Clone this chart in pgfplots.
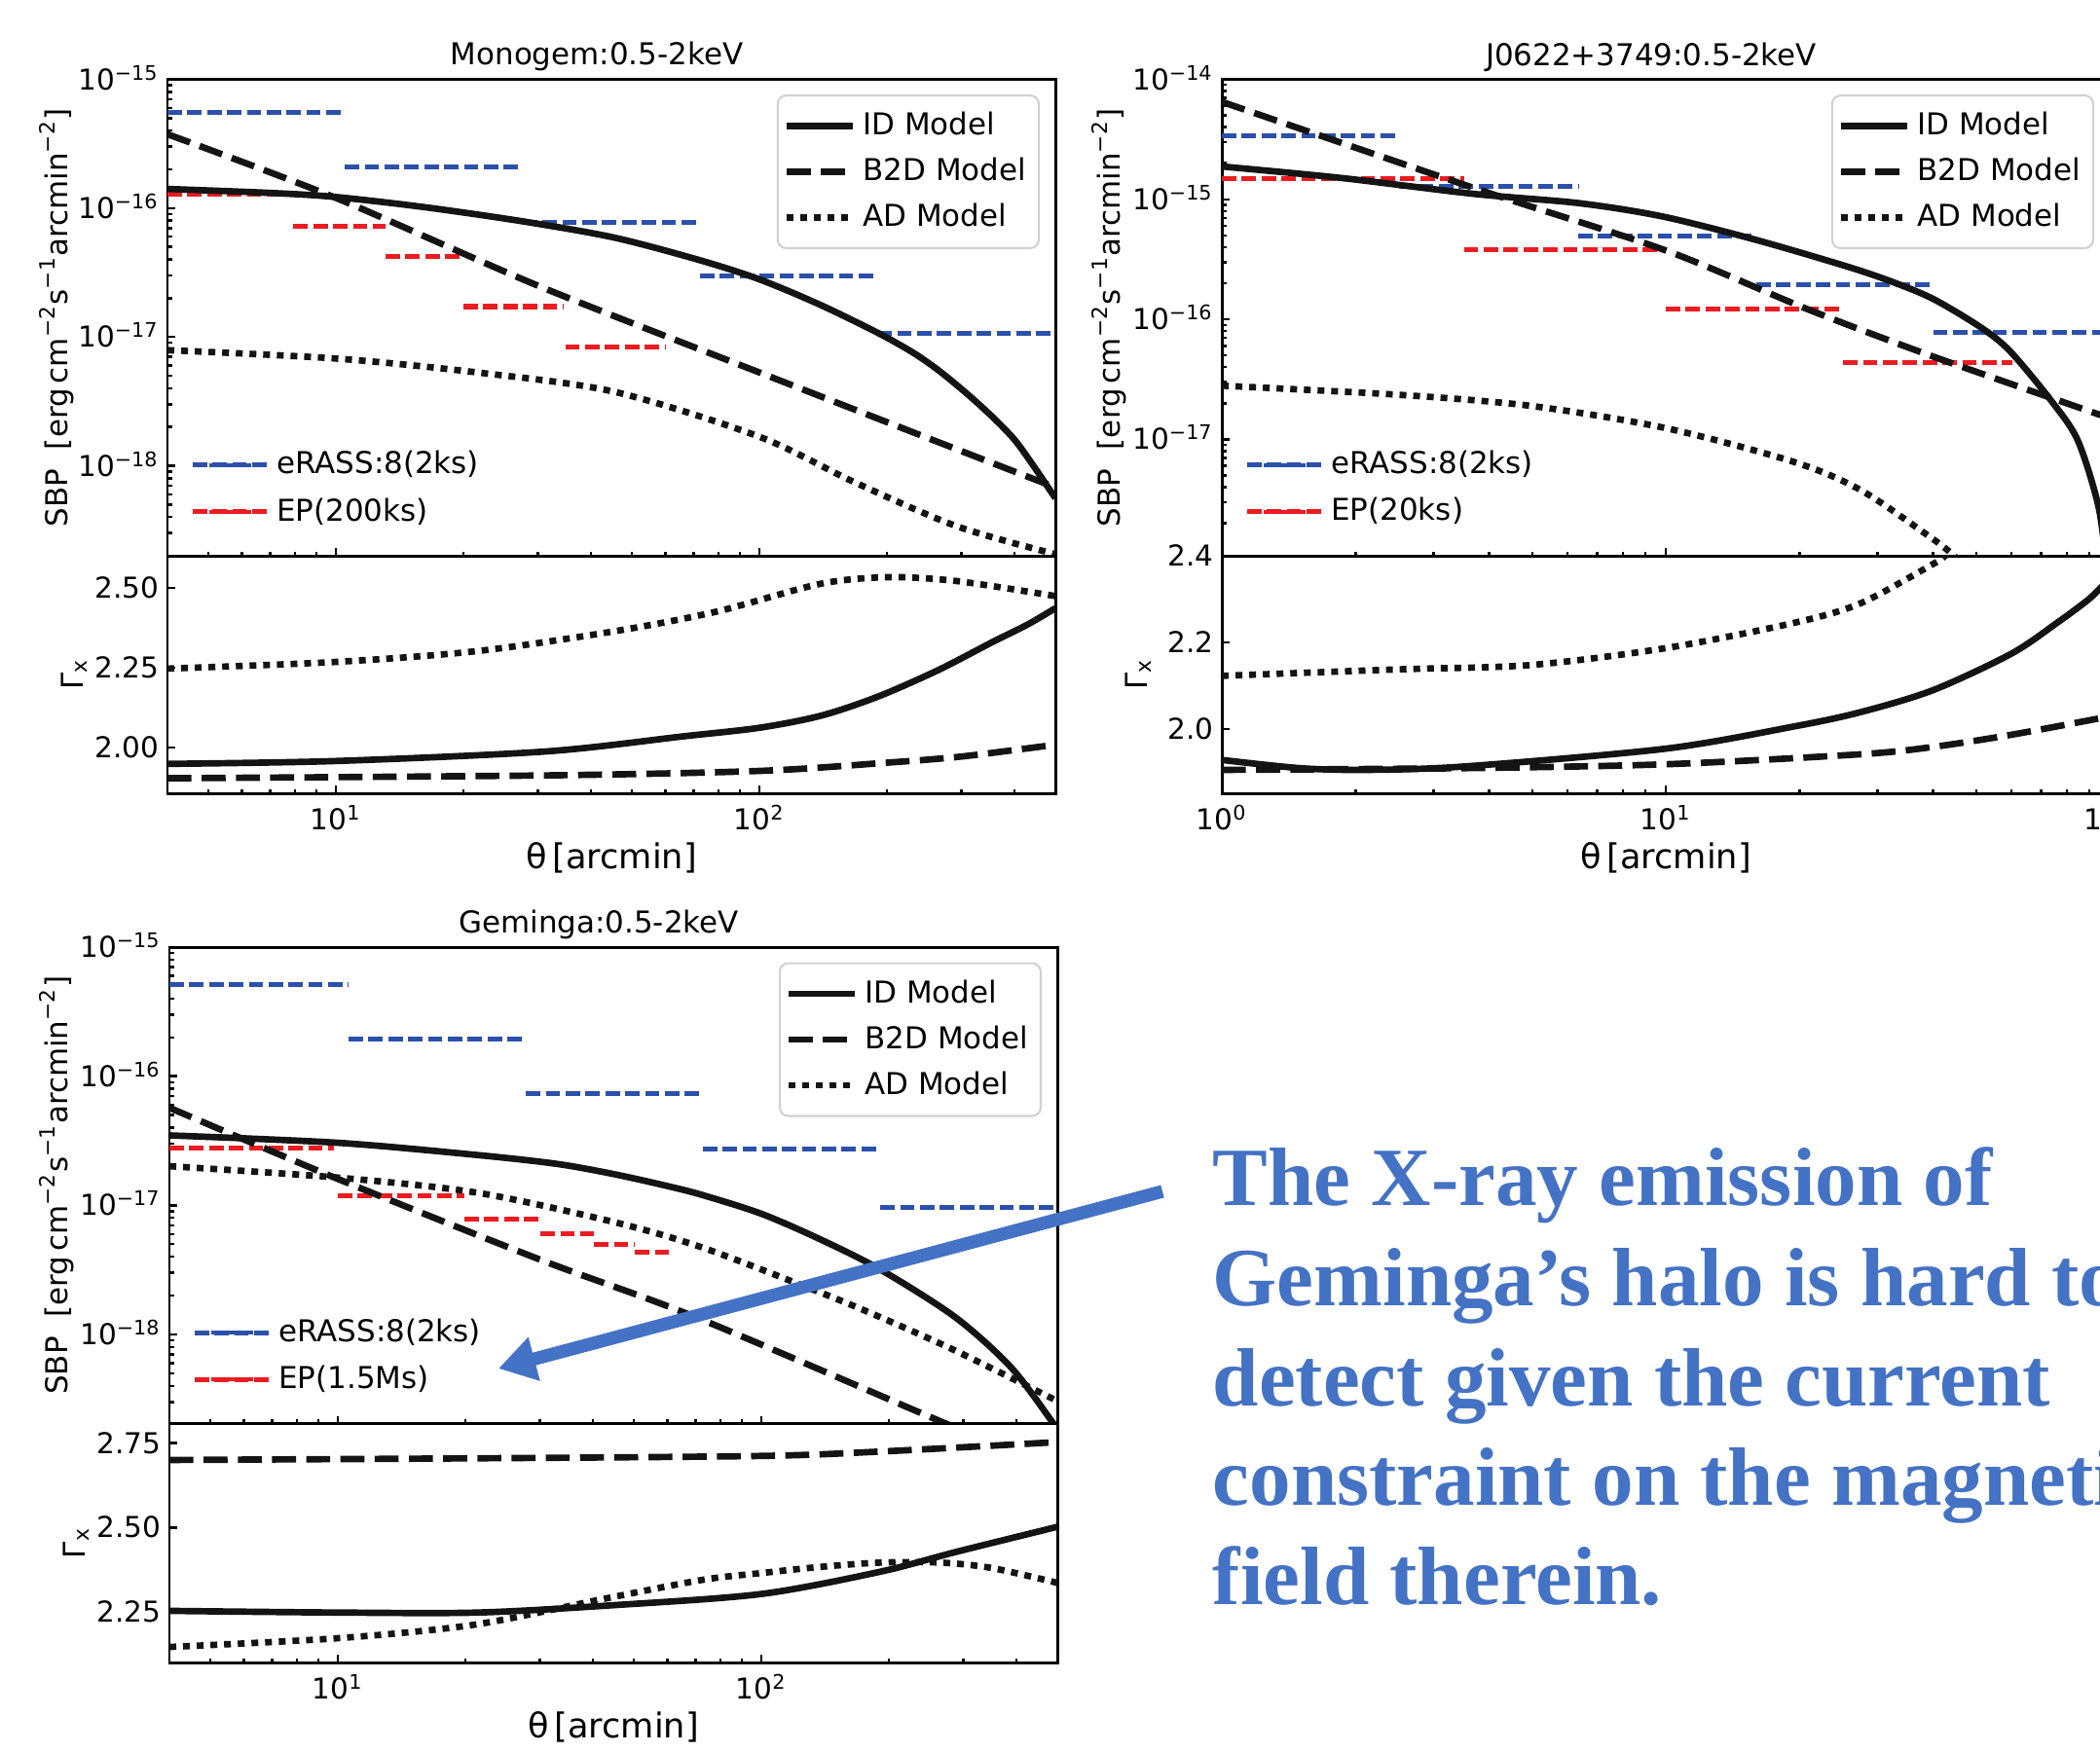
\documentclass[border=0pt]{standalone}
\usepackage{fontspec}
\setmainfont{DejaVu Sans}
\newfontfamily\annotfont{Liberation Serif}
\usepackage{pgfplots}
\pgfplotsset{compat=1.18}
\usetikzlibrary{arrows.meta}

\definecolor{eblue}{RGB}{44,80,170}
\definecolor{epred}{RGB}{234,28,34}
\definecolor{annblue}{RGB}{68,114,196}

\pgfplotsset{
  panelbase/.style={
    scale only axis, width=9.12cm,
    axis line style={line width=0.85pt},
    tick style={line width=0.7pt, black},
    tick align=inside, xtick pos=left, ytick pos=left,
    major tick length=0.08cm, minor tick length=0.045cm,
    tick label style={font=\fontsize{8.4}{10}\selectfont},
    label style={font=\fontsize{8.8}{10}\selectfont},
    yticklabel style={anchor=base east, inner sep=0pt, xshift=-0.08cm, yshift=-0.105cm},
    xticklabel style={anchor=base, yshift=-0.37cm},
  },
  toppanel/.style={panelbase, anchor=south west, height=4.895cm,
    xticklabels={},
    every axis title/.style={font=\fontsize{8.8}{10}\selectfont, at={(axis description cs:0.5,1)}, anchor=base, yshift=0.145cm, xshift=-0.15cm},
    ylabel={SBP\ \ [erg\,cm\textsuperscript{−2}s\textsuperscript{−1}arcmin\textsuperscript{−2}]},
  },
  botpanel/.style={panelbase, anchor=north west, height=2.44cm,
    xlabel={θ\,[arcmin]},
    every axis x label/.style={at={(axis description cs:0.5,0)}, anchor=base, yshift=-0.77cm},
    ylabel={Γ\textsubscript{x}},
  },
  modelaxis/.style={toppanel, hide axis, legend cell align=left,
    legend style={at={(1,1)}, anchor=north east, xshift=-0.16cm, yshift=-0.155cm,
      draw=black!18, line width=0.6pt, rounded corners=2.5pt, fill=white,
      fill opacity=0.8, text opacity=1, draw opacity=1,
      font=\fontsize{8.8}{10}\selectfont, inner xsep=0.06cm, inner ysep=0.1cm, row sep=1.2pt},
    legend image code/.code={\draw[##1] (0cm,0cm) -- (0.68cm,0cm);},
  },
  datalegend/.style={legend cell align=left,
    legend style={at={(0,0)}, anchor=south west, xshift=0.12cm, yshift=0.16cm,
      draw=none, fill=none, font=\fontsize{8.8}{10}\selectfont, row sep=1.5pt},
    legend image code/.code={\path (0cm,0cm) -- (0.77cm,0cm);
      \draw[##1, line width=1.1pt, dash pattern=on 3.2pt off 1.8pt] (0cm,0cm) -- (0.6cm,0cm);},
  },
}
\tikzset{
  idm/.style={black!92, line width=1.9pt, smooth, tension=0.5},
  b2dm/.style={black!92, line width=1.9pt, dash pattern=on 7pt off 3pt, smooth, tension=0.5},
  adm/.style={black!92, line width=1.9pt, dash pattern=on 2pt off 2pt, smooth, tension=0.5},
  erass/.style={eblue, line width=1.45pt, dash pattern=on 4.2pt off 1.6pt},
  epdat/.style={epred, line width=1.45pt, dash pattern=on 4.2pt off 1.6pt},
}

\begin{document}
\begin{tikzpicture}[x=1cm, y=1cm]
\useasboundingbox (0,0) rectangle (21.57,18);
\clip (0,0) rectangle (21.57,18);

% ---------------- Monogem ----------------
\begin{axis}[xmode=log, ymode=log, toppanel, datalegend,
  at={(1.72cm,12.29cm)}, xmin=4, xmax=500, ymin=2e-19, ymax=1e-15,
  xtick={10,100}, minor xtick={4,5,6,7,8,9,20,30,40,50,60,70,80,90,200,300,400,500},
  ytick={1e-18,1e-17,1e-16,1e-15}, yticklabels={10\textsuperscript{−18},10\textsuperscript{−17},10\textsuperscript{−16},10\textsuperscript{−15}},
  minor ytick={3e-19,4e-19,5e-19,6e-19,7e-19,8e-19,9e-19,2e-18,3e-18,4e-18,5e-18,6e-18,7e-18,8e-18,9e-18,2e-17,3e-17,4e-17,5e-17,6e-17,7e-17,8e-17,9e-17,2e-16,3e-16,4e-16,5e-16,6e-16,7e-16,8e-16,9e-16},
  title={Monogem:0.5-2keV},
  ylabel style={at={(axis description cs:-0.125,0.5)}, anchor=center}]
\addplot[erass, unbounded coords=jump] coordinates {(4,5.5e-16) (10.5,5.5e-16) (10.5,nan) (10.5,2.1e-16) (27.6,2.1e-16) (27.6,nan)
  (27.6,7.8e-17) (72.4,7.8e-17) (72.4,nan) (72.4,2.98e-17) (190,2.98e-17) (190,nan) (190,1.06e-17) (500,1.06e-17)};
\addlegendentry{eRASS:8(2ks)}
\addplot[epdat, unbounded coords=jump] coordinates {(4,1.28e-16) (7.94,1.28e-16) (7.94,nan) (7.94,7.2e-17) (13.1,7.2e-17) (13.1,nan)
  (13.1,4.2e-17) (20,4.2e-17) (20,nan) (20,1.72e-17) (34.4,1.72e-17) (34.4,nan) (34.8,8.4e-18) (60,8.4e-18)};
\addlegendentry{EP(200ks)}
\end{axis}
\begin{axis}[xmode=log, ymode=log, modelaxis,
  at={(1.72cm,12.29cm)}, xmin=4, xmax=500, ymin=2e-19, ymax=1e-15]
\addplot[idm] coordinates {(4,1.41e-16) (7.1,1.31e-16) (10,1.22e-16) (16.1,1.02e-16) (27.6,7.9e-17) (45.5,5.9e-17)
  (72.4,3.94e-17) (100,2.8e-17) (139,1.78e-17) (190,1.08e-17) (230,7.6e-18) (265,5.5e-18) (310,3.6e-18) (355,2.4e-18) (400,1.6e-18) (442,1.02e-18) (500,5.6e-19)};
\addlegendentry{ID Model}
\addplot[b2dm] coordinates {(4,3.75e-16) (10,1.2e-16) (30,2.5e-17) (100,5.3e-18) (300,1.3e-18) (500,6.8e-19)};
\addlegendentry{B2D Model}
\addplot[adm] coordinates {(4,7.9e-18) (10,6.8e-18) (21.6,5.3e-18) (45.5,3.75e-18) (100,1.68e-18) (167,7.5e-19) (292,3.4e-19) (500,2.06e-19)};
\addlegendentry{AD Model}
\end{axis}
\begin{axis}[xmode=log, botpanel, at={(1.72cm,12.29cm)}, xmin=4, xmax=500, ymin=1.857, ymax=2.60,
  xtick={10,100}, xticklabels={10\textsuperscript{1},10\textsuperscript{2}},
  minor xtick={4,5,6,7,8,9,20,30,40,50,60,70,80,90,200,300,400,500},
  ytick={2.00,2.25,2.50}, yticklabels={2.00,2.25,2.50},
  ylabel style={at={(axis description cs:-0.105,0.5)}, anchor=center}]
\addplot[idm] coordinates {(4,1.949) (10,1.958) (31.4,1.988) (66,2.035) (100,2.062) (140,2.10) (191,2.160) (265,2.243) (355,2.330) (430,2.385) (500,2.436)};
\addplot[b2dm] coordinates {(4,1.904) (31.4,1.913) (100,1.927) (201,1.953) (300,1.972) (500,2.009)};
\addplot[adm] coordinates {(4,2.247) (10,2.268) (21.6,2.302) (45.5,2.364) (79,2.425) (139,2.512) (201,2.533) (292,2.521) (500,2.474)};
\end{axis}

% ---------------- J0622+3749 ----------------
\begin{axis}[xmode=log, ymode=log, toppanel, datalegend,
  at={(12.55cm,12.29cm)}, xmin=1, xmax=100, ymin=1.07e-18, ymax=1e-14,
  xtick={1,10,100}, minor xtick={2,3,4,5,6,7,8,9,20,30,40,50,60,70,80,90},
  ytick={1e-17,1e-16,1e-15,1e-14}, yticklabels={10\textsuperscript{−17},10\textsuperscript{−16},10\textsuperscript{−15},10\textsuperscript{−14}},
  minor ytick={2e-18,3e-18,4e-18,5e-18,6e-18,7e-18,8e-18,9e-18,2e-17,3e-17,4e-17,5e-17,6e-17,7e-17,8e-17,9e-17,2e-16,3e-16,4e-16,5e-16,6e-16,7e-16,8e-16,9e-16,2e-15,3e-15,4e-15,5e-15,6e-15,7e-15,8e-15,9e-15},
  title={J0622+3749:0.5-2keV},
  ylabel style={at={(axis description cs:-0.127,0.5)}, anchor=center}]
\addplot[erass, unbounded coords=jump] coordinates {(1,3.4e-15) (2.51,3.4e-15) (2.51,nan) (2.51,1.28e-15) (6.35,1.28e-15) (6.35,nan)
  (6.35,4.94e-16) (16,4.94e-16) (16,nan) (16,1.96e-16) (40,1.96e-16) (40,nan) (40,7.75e-17) (100,7.75e-17)};
\addlegendentry{eRASS:8(2ks)}
\addplot[epdat, unbounded coords=jump] coordinates {(1,1.5e-15) (3.51,1.5e-15) (3.51,nan) (3.51,3.83e-16) (10,3.83e-16) (10,nan)
  (10,1.22e-16) (25.1,1.22e-16) (25.1,nan) (25.1,4.35e-17) (60.3,4.35e-17)};
\addlegendentry{EP(20ks)}
\end{axis}
\begin{axis}[xmode=log, ymode=log, modelaxis,
  at={(12.55cm,12.29cm)}, xmin=1, xmax=100, ymin=1.07e-18, ymax=1e-14]
\addplot[idm] coordinates {(1,1.88e-15) (1.85,1.51e-15) (3.7,1.11e-15) (6.37,9.3e-16) (9.83,7.2e-16)
  (15.95,4.6e-16) (25.9,2.72e-16) (33,2.0e-16) (40.3,1.46e-16) (51.4,8.5e-17) (59.7,5.4e-17) (73.8,2.1e-17) (84.7,9.8e-18) (94.3,2.75e-18) (98.5,8e-19) (100,4e-19)};
\addlegendentry{ID Model}
\addplot[b2dm] coordinates {(1,6.5e-15) (3.78,1.21e-15) (10,3.75e-16) (20.8,1.22e-16) (40,4.9e-17) (100,1.5e-17)};
\addlegendentry{B2D Model}
\addplot[adm] coordinates {(1,2.8e-17) (2.51,2.35e-17) (4.97,1.9e-17) (10,1.24e-17) (19.4,6.5e-18) (27.4,3.8e-18) (38.5,1.63e-18) (44,1.12e-18) (48,8e-19)};
\addlegendentry{AD Model}
\end{axis}
\begin{axis}[xmode=log, botpanel, at={(12.55cm,12.29cm)}, xmin=1, xmax=100, ymin=1.852, ymax=2.4,
  xtick={1,10,100}, xticklabels={10\textsuperscript{0},10\textsuperscript{1},10\textsuperscript{2}},
  minor xtick={2,3,4,5,6,7,8,9,20,30,40,50,60,70,80,90},
  ytick={2.0,2.2,2.4}, yticklabels={2.0,2.2,2.4},
  ylabel style={at={(axis description cs:-0.094,0.5)}, anchor=center}]
\addplot[idm] coordinates {(1,1.929) (1.5,1.910) (2.12,1.906) (3.53,1.914) (10,1.955) (19.4,2.006) (27.4,2.039) (40,2.090) (60,2.174) (76,2.245) (89,2.297) (96,2.329) (100,2.35)};
\addplot[b2dm] coordinates {(1,1.906) (3.53,1.910) (10,1.919) (27.4,1.942) (40,1.959) (60,1.987) (96,2.026) (100,2.03)};
\addplot[adm] coordinates {(1,2.123) (2.51,2.138) (4.97,2.148) (10,2.187) (19.4,2.245) (27.4,2.290) (40,2.381) (42.6,2.40) (45,2.42)};
\end{axis}

% ---------------- Geminga ----------------
\begin{axis}[xmode=log, ymode=log, toppanel, datalegend,
  at={(1.74cm,3.375cm)}, xmin=4, xmax=500, ymin=2.04e-19, ymax=1e-15,
  xtick={10,100}, minor xtick={4,5,6,7,8,9,20,30,40,50,60,70,80,90,200,300,400,500},
  ytick={1e-18,1e-17,1e-16,1e-15}, yticklabels={10\textsuperscript{−18},10\textsuperscript{−17},10\textsuperscript{−16},10\textsuperscript{−15}},
  minor ytick={3e-19,4e-19,5e-19,6e-19,7e-19,8e-19,9e-19,2e-18,3e-18,4e-18,5e-18,6e-18,7e-18,8e-18,9e-18,2e-17,3e-17,4e-17,5e-17,6e-17,7e-17,8e-17,9e-17,2e-16,3e-16,4e-16,5e-16,6e-16,7e-16,8e-16,9e-16},
  title={Geminga:0.5-2keV},
  ylabel style={at={(axis description cs:-0.127,0.5)}, anchor=center}]
\addplot[erass, unbounded coords=jump] coordinates {(4,5.1e-16) (10.6,5.1e-16) (10.6,nan) (10.6,1.93e-16) (27.8,1.93e-16) (27.8,nan)
  (27.8,7.3e-17) (72.7,7.3e-17) (72.7,nan) (72.7,2.73e-17) (191,2.73e-17) (191,nan) (191,9.7e-18) (500,9.7e-18)};
\addlegendentry{eRASS:8(2ks)}
\addplot[epdat, unbounded coords=jump] coordinates {(4,2.79e-17) (9.8,2.79e-17) (9.8,nan) (10,1.19e-17) (19.9,1.19e-17) (19.9,nan)
  (19.9,7.8e-18) (30.1,7.8e-18) (30.1,nan) (30.1,6.0e-18) (40.3,6.0e-18) (40.3,nan)
  (40.3,4.97e-18) (50.3,4.97e-18) (50.3,nan) (50.3,4.3e-18) (60.7,4.3e-18)};
\addlegendentry{EP(1.5Ms)}
\end{axis}
\begin{axis}[xmode=log, ymode=log, modelaxis,
  at={(1.74cm,3.375cm)}, xmin=4, xmax=500, ymin=2.04e-19, ymax=1e-15]
\addplot[idm] coordinates {(4,3.48e-17) (10,3.05e-17) (21.4,2.45e-17) (33,2.09e-17) (45,1.74e-17) (60,1.41e-17) (72.7,1.2e-17) (100,8.6e-18)
  (137,5.5e-18) (191,3.18e-18) (287,1.36e-18) (388,5.6e-19) (484,2.15e-19) (500,1.8e-19)};
\addlegendentry{ID Model}
\addplot[b2dm] coordinates {(4,5.7e-17) (10,1.6e-17) (30,3.8e-18) (70,1.36e-18) (267,2.1e-19) (500,9e-20)};
\addlegendentry{B2D Model}
\addplot[adm] coordinates {(4,2.01e-17) (10,1.64e-17) (21.4,1.25e-17) (45,7.4e-18) (72.7,4.7e-18) (137,2.13e-18) (191,1.36e-18) (287,7.5e-19) (500,3.05e-19)};
\addlegendentry{AD Model}
\end{axis}
\begin{axis}[xmode=log, botpanel, at={(1.74cm,3.375cm)}, height=2.455cm, xmin=4, xmax=500, ymin=2.10, ymax=2.808,
  xtick={10,100}, xticklabels={10\textsuperscript{1},10\textsuperscript{2}},
  minor xtick={4,5,6,7,8,9,20,30,40,50,60,70,80,90,200,300,400,500},
  ytick={2.25,2.50,2.75}, yticklabels={2.25,2.50,2.75},
  ylabel style={at={(axis description cs:-0.105,0.5)}, anchor=center}]
\addplot[idm] coordinates {(4,2.253) (10,2.248) (21.4,2.248) (45,2.270) (100,2.303) (191,2.369) (287,2.427) (500,2.502)};
\addplot[b2dm] coordinates {(4,2.700) (21.4,2.705) (100,2.712) (191,2.725) (500,2.753)};
\addplot[adm] coordinates {(4,2.146) (10,2.172) (21,2.212) (43,2.290) (72.7,2.345) (100,2.365) (137,2.383) (191,2.396) (265,2.396) (350,2.38) (500,2.336)};
\end{axis}

% ---------------- annotation ----------------
\draw[annblue, line width=3.8pt, -{Triangle[length=0.38cm, width=0.44cm]}] (11.94,5.76) -- (5.12,3.94);
\begin{scope}[every node/.style={anchor=base west, inner sep=0pt, text=annblue,
    font=\annotfont\bfseries\fontsize{24.2}{29}\selectfont}]
\node at (12.45,5.62) {The X-ray emission of};
\node at (12.45,4.59) {Geminga’s halo is hard to};
\node at (12.45,3.56) {detect given the current};
\node at (12.45,2.54) {constraint on the magnetic};
\node at (12.45,1.52) {field therein.};
\end{scope}
\end{tikzpicture}
\end{document}
